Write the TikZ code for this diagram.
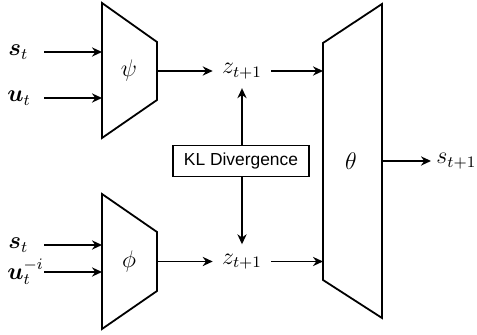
\documentclass[tikz,border=0pt]{standalone}
\usepackage{bm}
\usepackage{fontspec}
\newfontfamily\labelsans{Liberation Sans}
\usepackage{tikz}
\usetikzlibrary{arrows.meta, positioning, calc}
\definecolor{ink}{HTML}{000000}
\tikzset{
  net/.style   = {draw=ink, line width=0.9pt, line join=miter},
  flow/.style  = {-{Stealth[length=5pt, width=4.6pt]}, draw=ink, line width=0.9pt},
  var/.style   = {font=\fontsize{11.5}{13}\selectfont, inner sep=0pt},
  latent/.style = {var, inner sep=4.5pt},
  klbox/.style = {draw=ink, line width=0.9pt, rectangle, inner sep=0pt,
                  minimum width=68pt, minimum height=15.5pt,
                  font=\labelsans\fontsize{8.7}{10}\selectfont},
}

\begin{document}
\begin{tikzpicture}[x=0.5pt, y=0.5pt]
  \useasboundingbox (0,0) rectangle (477,335);

  % encoders
  \draw[net] (102,332) -- (157,293) -- (157,235) -- (102,197) -- cycle;
  \node[var] (psi) at (129,264) {$\psi$};
  \draw[net] (102,141) -- (157,103) -- (157,44) -- (102,6) -- cycle;
  \node[var] (phi) at (129,73.5) {$\phi$};

  % decoder
  \draw[net] (323,292) -- (382,331) -- (382,17) -- (323,55) -- cycle;
  \node[var] (theta) at (351,174) {$\theta$};

  % inputs
  \node[var, anchor=west] (s1) at (8,283) {$\bm{s}_t$};
  \node[var, anchor=west] (u1) at (7,237) {$\bm{u}_t$};
  \node[var, anchor=west] (s2) at (8,90) {$\bm{s}_t$};
  \node[var, anchor=west] (u2) at (7,63) {$\bm{u}_t^{-i}$};
  \coordinate (s1-start) at (44,283);
  \coordinate (u1-start) at (44,237);
  \coordinate (s2-start) at (44,90);
  \coordinate (u2-start) at (44,63);
  \draw[flow] (s1-start) -- (102,283);
  \draw[flow] (u1-start) -- (102,237);
  \draw[flow] (s2-start) -- (102,90);
  \draw[flow] (u2-start) -- (102,63);

  % latents
  \node[latent] (z1) at (242,264) {$z_{t+1}$};
  \node[latent] (z2) at (242,73.5) {$z_{t+1}$};
  \draw[flow] (157,264) -- (z1.west);
  \draw[flow] (157,73.5) -- (z2.west);
  \draw[flow] (z1.east) -- (323,264);
  \draw[flow] (z2.east) -- (323,73.5);

  \node[klbox] (kl) at (241,174) {KL Divergence};
  \draw[flow] (kl.north -| z1) -- (z1.south);
  \draw[flow] (kl.south -| z2) -- (z2.north);

  % output
  \node[var, anchor=west, inner sep=2.5pt] (s3) at (431,174) {$s_{t+1}$};
  \draw[flow] (382,174) -- (s3.west);
\end{tikzpicture}
\end{document}
